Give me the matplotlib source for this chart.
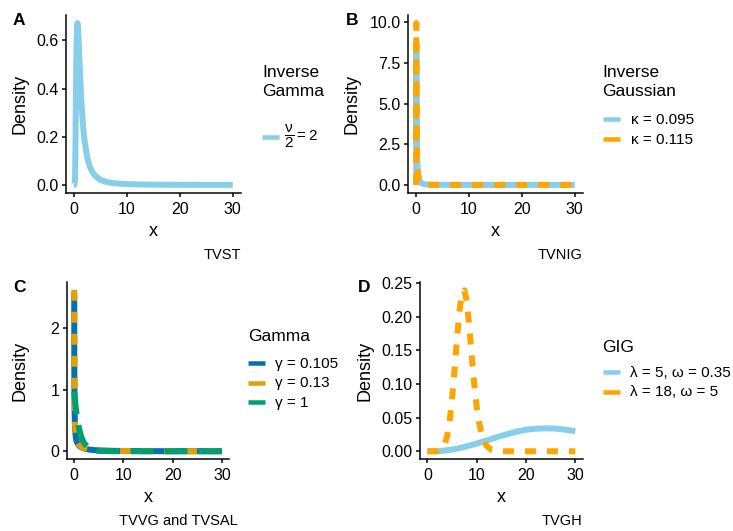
import matplotlib
matplotlib.use('Agg')
import matplotlib.pyplot as plt
from matplotlib.lines import Line2D
from matplotlib.ticker import FixedLocator

# ---------------- data ----------------
# Panel A: Inverse Gamma (nu/2 = 2)
xA = [0, 0.1, 0.2, 0.25, 0.3, 0.35, 0.4, 0.5, 0.6, 0.67, 0.75, 0.85, 1, 1.2, 1.4, 1.6,
      1.8, 2, 2.5, 3, 3.5, 4, 5, 6, 7, 8, 10, 12, 15, 20, 25, 30]
yA = [0, 0.0, 0.023, 0.086, 0.188, 0.308, 0.421, 0.586, 0.661, 0.672, 0.659, 0.619,
      0.541, 0.437, 0.349, 0.280, 0.226, 0.184, 0.115, 0.076, 0.053, 0.038, 0.021,
      0.013, 0.0088, 0.0061, 0.0033, 0.002, 0.001, 0.00045, 0.00024, 0.00014]
labA = [r'$\dfrac{\nu}{2} = 2$']

# Panel B: Inverse Gaussian
xB = [0, 0.01, 0.02, 0.04, 0.06, 0.08, 0.1, 0.15, 0.2, 0.3, 0.4, 0.6, 0.8, 1, 1.5, 2,
      3, 5, 10, 20, 30]
yB_k095 = [0, 8.6, 7.6, 5.6, 4.4, 3.6, 3.0, 2.0, 1.45, 0.85, 0.55, 0.28, 0.16, 0.1,
           0.045, 0.024, 0.01, 0.003, 0.0005, 0.00004, 0]
yB_k115 = [0, 9.95, 8.5, 6.0, 4.6, 3.7, 3.0, 2.0, 1.4, 0.8, 0.5, 0.25, 0.14, 0.09,
           0.04, 0.02, 0.008, 0.002, 0.0003, 0.00002, 0]
labB = ['κ = 0.095', 'κ = 0.115']

# Panel C: Gamma
xC = [0.025, 0.05, 0.1, 0.15, 0.2, 0.3, 0.4, 0.5, 0.75, 1, 1.5, 2, 3, 4, 5, 7, 10, 15,
      20, 25, 30]
yC_g105 = [2.58, 1.30, 0.70, 0.49, 0.37, 0.26, 0.20, 0.165, 0.12, 0.09, 0.062, 0.045,
           0.028, 0.019, 0.0135, 0.0078, 0.0039, 0.0016, 0.00073, 0.00036, 0.00018]
yC_g13 = [2.63, 1.44, 0.79, 0.545, 0.422, 0.293, 0.225, 0.185, 0.135, 0.105, 0.07,
          0.052, 0.032, 0.021, 0.0145, 0.008, 0.0039, 0.0014, 0.00059, 0.00025, 0.00011]
yC_g1 = [0.975, 0.951, 0.905, 0.861, 0.819, 0.741, 0.670, 0.607, 0.472, 0.368, 0.223,
         0.135, 0.050, 0.018, 0.0067, 0.0009, 0.00005, 0, 0, 0, 0]
labC = ['γ = 0.105', 'γ = 0.13', 'γ = 1']

# Panel D: GIG
xD = [0, 1, 2, 3, 3.5, 4, 4.5, 5, 5.5, 6, 6.5, 7, 7.5, 8, 8.5, 9, 9.5, 10, 10.5, 11,
      11.5, 12, 13, 14, 15, 16, 18, 20, 22, 24, 26, 28, 30]
yD_l5 = [0, 0, 0.0001, 0.0006, 0.001, 0.0015, 0.002, 0.0026, 0.0032, 0.0039, 0.0047,
         0.0055, 0.0064, 0.0073, 0.0083, 0.0093, 0.0103, 0.0115, 0.0126, 0.0138, 0.0149,
         0.016, 0.0183, 0.0207, 0.023, 0.025, 0.029, 0.032, 0.0335, 0.034, 0.0337,
         0.032, 0.0298]
yD_l18 = [0, 0, 0.0003, 0.004, 0.011, 0.022, 0.044, 0.078, 0.12, 0.167, 0.208, 0.235,
          0.239, 0.222, 0.185, 0.14, 0.10, 0.066, 0.042, 0.026, 0.015, 0.008, 0.002,
          0.0005, 0.0001, 0, 0, 0, 0, 0, 0, 0, 0]
labD = ['λ = 5, ω = 0.35', 'λ = 18, ω = 5']

xticks = [0, 10, 20, 30]

# ---------------- style ----------------
W, H, DPI = 733, 531, 100
PT = 72.0 / DPI  # points per pixel
plt.rcParams['font.family'] = ['Liberation Sans', 'DejaVu Sans']
plt.rcParams['mathtext.fontset'] = 'custom'
plt.rcParams['mathtext.rm'] = 'Liberation Sans'
plt.rcParams['mathtext.it'] = 'Liberation Sans'
plt.rcParams['mathtext.bf'] = 'Liberation Sans:bold'
plt.rcParams['lines.scale_dashes'] = False

SKY = '#87CEEB'
ORANGE = '#FFA500'
OI_BLUE = '#0072B2'
OI_ORANGE = '#E69F00'
OI_GREEN = '#009E73'

LW = 6 * PT
KEY_LW = 4.5 * PT
DASHED = (0, (11 * PT, 11 * PT))
LONGDASH = (0, (23 * PT, 11 * PT))

TICK_FS = 11.5
TITLE_FS = 13
LEG_TITLE_FS = 12.5
LEG_FS = 11
CAP_FS = 10.5
TAG_FS = 12.5

fig = plt.figure(figsize=(W / DPI, H / DPI), dpi=DPI)


def fxy(x, y):
    return x / W, 1 - y / H


def make_ax(l, r, t, b, yticks, yfmt):
    ax = fig.add_axes([l / W, 1 - b / H, (r - l) / W, (b - t) / H])
    for s in ['top', 'right']:
        ax.spines[s].set_visible(False)
    for s in ['left', 'bottom']:
        ax.spines[s].set_linewidth(1.5 * PT)
        ax.spines[s].set_color('black')
    ax.tick_params(direction='out', length=4 * PT, width=1.5 * PT,
                   colors='black', labelsize=TICK_FS)
    ax.tick_params(axis='y', pad=2.5)
    ax.tick_params(axis='x', pad=3.5)
    ax.xaxis.set_major_locator(FixedLocator(xticks))
    ax.set_xticklabels([str(v) for v in xticks])
    ax.set_xlim(-1.5, 31.5)
    ax.yaxis.set_major_locator(FixedLocator(yticks))
    ax.set_yticklabels([yfmt.format(v) for v in yticks])
    ax.set_facecolor('none')
    return ax


def set_ylim(ax, arrays):
    lo = min(min(a) for a in arrays)
    hi = max(max(a) for a in arrays)
    r = hi - lo
    ax.set_ylim(lo - 0.05 * r, hi + 0.05 * r)


def titles(ax, cx, ylab_x, ylab_y, xlab_base):
    fig.text(*fxy(ylab_x, ylab_y), 'Density', rotation=90, fontsize=TITLE_FS,
             ha='center', va='center')
    fig.text(*fxy(cx, xlab_base), 'x', fontsize=TITLE_FS, ha='center',
             va='baseline')


def key(x0, y, color):
    fig.add_artist(Line2D([x0 / W, (x0 + 17) / W], [1 - y / H, 1 - y / H],
                          color=color, lw=KEY_LW, solid_capstyle='butt'))


# ---- Panel A ----
axA = make_ax(66, 240.7, 15, 193, [0.0, 0.2, 0.4, 0.6], '{:.1f}')
axA.plot(xA, yA, color=SKY, lw=LW, solid_capstyle='butt', solid_joinstyle='round')
set_ylim(axA, [yA])
titles(axA, 153.4, 20, 104, 236)
fig.text(*fxy(13, 25), 'A', fontsize=TAG_FS, fontweight='bold', va='baseline')
fig.text(*fxy(240.7, 259), 'TVST', fontsize=CAP_FS, ha='right', va='baseline')
fig.text(*fxy(262, 77), 'Inverse', fontsize=LEG_TITLE_FS, va='baseline')
fig.text(*fxy(262, 96), 'Gamma', fontsize=LEG_TITLE_FS, va='baseline')
key(262, 137, SKY)
fig.text(*fxy(284, 137), labA[0], fontsize=LEG_FS, va='center')

# ---- Panel B ----
axB = make_ax(408.3, 582.7, 15, 193, [0.0, 2.5, 5.0, 7.5, 10.0], '{:.1f}')
axB.plot(xB, yB_k095, color=SKY, lw=LW, solid_capstyle='butt', solid_joinstyle='round')
axB.plot(xB, yB_k115, color=ORANGE, lw=LW, linestyle=DASHED, dash_capstyle='butt')
set_ylim(axB, [yB_k095, yB_k115])
titles(axB, 495.5, 351.5, 104, 236)
fig.text(*fxy(346, 25), 'B', fontsize=TAG_FS, fontweight='bold', va='baseline')
fig.text(*fxy(582.7, 259), 'TVNIG', fontsize=CAP_FS, ha='right', va='baseline')
fig.text(*fxy(602, 77), 'Inverse', fontsize=LEG_TITLE_FS, va='baseline')
fig.text(*fxy(602, 96), 'Gaussian', fontsize=LEG_TITLE_FS, va='baseline')
for lab, col, yy in zip(labB, [SKY, ORANGE], [119, 139]):
    key(603, yy, col)
    fig.text(*fxy(631, yy + 5), lab, fontsize=LEG_FS, va='baseline')

# ---- Panel C ----
axC = make_ax(66.7, 229.3, 281.7, 459.3, [0, 1, 2], '{:d}')
axC.plot(xC, yC_g105, color=OI_BLUE, lw=LW, solid_capstyle='butt', solid_joinstyle='round')
axC.plot(xC, yC_g13, color=OI_ORANGE, lw=LW, linestyle=DASHED, dash_capstyle='butt')
axC.plot(xC, yC_g1, color=OI_GREEN, lw=LW, linestyle=LONGDASH, dash_capstyle='butt')
set_ylim(axC, [yC_g105, yC_g13, yC_g1])
titles(axC, 148, 20, 370.5, 502)
fig.text(*fxy(13, 292), 'C', fontsize=TAG_FS, fontweight='bold', va='baseline')
fig.text(*fxy(238, 525), 'TVVG and TVSAL', fontsize=CAP_FS, ha='right', va='baseline')
fig.text(*fxy(248, 341), 'Gamma', fontsize=LEG_TITLE_FS, va='baseline')
for lab, col, yy in zip(labC, [OI_BLUE, OI_ORANGE, OI_GREEN], [363, 382.5, 402]):
    key(248, yy, col)
    fig.text(*fxy(275, yy + 5), lab, fontsize=LEG_FS, va='baseline')

# ---- Panel D ----
axD = make_ax(420, 582.7, 282.3, 459.3, [0.0, 0.05, 0.10, 0.15, 0.20, 0.25], '{:.2f}')
axD.plot(xD, yD_l5, color=SKY, lw=LW, solid_capstyle='butt', solid_joinstyle='round')
axD.plot(xD, yD_l18, color=ORANGE, lw=LW, linestyle=DASHED, dash_capstyle='butt')
set_ylim(axD, [yD_l5, yD_l18])
titles(axD, 501.3, 365, 370.5, 502)
fig.text(*fxy(358, 292), 'D', fontsize=TAG_FS, fontweight='bold', va='baseline')
fig.text(*fxy(582, 525), 'TVGH', fontsize=CAP_FS, ha='right', va='baseline')
fig.text(*fxy(602, 352), 'GIG', fontsize=LEG_TITLE_FS, va='baseline')
for lab, col, yy in zip(labD, [SKY, ORANGE], [372, 391.5]):
    key(603, yy, col)
    fig.text(*fxy(630, yy + 5), lab, fontsize=LEG_FS, va='baseline')

fig.savefig('out.png', dpi=DPI)
